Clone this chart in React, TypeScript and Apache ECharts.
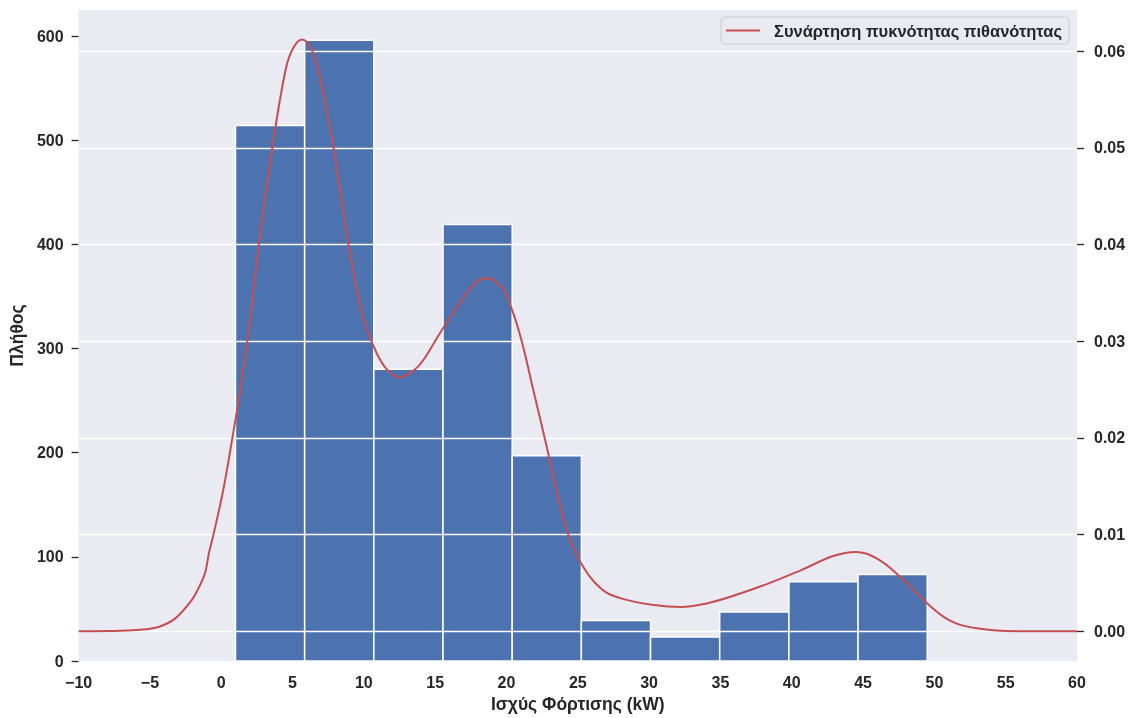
import React, { useEffect, useRef } from "react";
import * as echarts from "echarts";

// Histogram of charging power (kW): bin edges and counts per bin
const binEdges = [1.0, 5.85, 10.7, 15.55, 20.4, 25.25, 30.1, 34.95, 39.8, 44.65, 49.5];
const binCounts = [514, 596, 280, 419, 197, 39, 23, 47, 76, 83];

// Kernel density estimate, sampled along the power axis
const kdeX = [
  -10, -7, -5.5, -4.4, -3.24, -2.08, -1.61, -1.14, -0.86, -0.56, 0.14, 0.77, 1.1, 1.82, 2.63,
  3.57, 4.5, 5.0, 5.66, 6.36, 7.06, 7.88, 8.93, 9.86, 10.56, 11.49, 12.54, 13.59, 14.2, 15.45,
  16.85, 17.78, 18.6, 19.65, 20.35, 21.05, 21.87, 22.8, 23.38, 24.31, 25.24, 26.64, 28.04,
  30.37, 32.24, 34.1, 35.97, 38.3, 40.63, 42.96, 44.48, 45.99, 47.62, 49.49, 51.1, 52.98,
  55.8, 60,
];
const kdeY = [
  0.0, 0.00005, 0.00018, 0.00044, 0.0013, 0.0032, 0.0044, 0.006, 0.0081, 0.0099, 0.0146,
  0.0199, 0.0228, 0.0299, 0.0399, 0.0499, 0.058, 0.0602, 0.0612, 0.0601, 0.0563, 0.0499,
  0.0399, 0.0329, 0.0299, 0.0273, 0.0263, 0.0271, 0.0281, 0.0311, 0.0342, 0.036, 0.0365,
  0.0356, 0.0334, 0.0301, 0.025, 0.0192, 0.0153, 0.0101, 0.007, 0.0044, 0.0034, 0.0027,
  0.0025, 0.0029, 0.0037, 0.0049, 0.0063, 0.0078, 0.0082, 0.0075, 0.0056, 0.0029, 0.0011,
  0.0003, 0.0, 0.0,
];

const xTicks = [-10, -5, 0, 5, 10, 15, 20, 25, 30, 35, 40, 45, 50, 55, 60];
const countTicks = [0, 100, 200, 300, 400, 500, 600];
const densityTicks = [0, 0.01, 0.02, 0.03, 0.04, 0.05, 0.06];

const SERIES_NAME = "Συνάρτηση πυκνότητας πιθανότητας";
const FONT = "'Liberation Sans', Arial, Helvetica, sans-serif";
const TEXT = "#262626";

export default function App() {
  const ref = useRef<HTMLDivElement>(null);

  useEffect(() => {
    if (!ref.current) return;
    const chart = echarts.init(ref.current, null, { renderer: "svg" });

    const bins = binCounts.map((c, i) => [binEdges[i], binEdges[i + 1], c]);
    const kde = kdeX.map((x, i) => [x, kdeY[i]]);

    const labelStyle = {
      fontFamily: FONT,
      fontSize: 16,
      fontWeight: "bold" as const,
      color: TEXT,
    };
    const nameStyle = { ...labelStyle, fontSize: 17.5 };

    chart.setOption({
      animation: false,
      textStyle: { fontFamily: FONT },
      grid: {
        left: 76,
        right: 54,
        top: 10,
        bottom: 57,
        show: true,
        backgroundColor: "#EAEAF2",
        borderWidth: 0,
      },
      legend: {
        data: [SERIES_NAME],
        right: 62,
        top: 17,
        padding: [5, 7, 5, 5],
        itemWidth: 34,
        itemHeight: 2,
        icon: "rect",
        backgroundColor: "#EAEAF2",
        borderColor: "#cccccc",
        borderWidth: 1,
        borderRadius: 4,
        textStyle: { ...labelStyle, fontSize: 16.5, padding: [0, 0, 0, 9] },
      },
      xAxis: {
        type: "value",
        min: -10,
        max: 60,
        interval: 5,
        name: "Ισχύς Φόρτισης (kW)",
        nameLocation: "middle",
        nameGap: 33,
        nameTextStyle: nameStyle,
        axisLine: { show: false },
        axisTick: { show: false },
        splitLine: { show: false },
        axisLabel: {
          ...labelStyle,
          margin: 13,
          customValues: xTicks,
          formatter: (v: number) => String(v).replace("-", "\u2212"),
        },
      },
      yAxis: [
        {
          type: "value",
          min: 0,
          max: 625,
          interval: 100,
          name: "Πλήθος",
          nameLocation: "middle",
          nameGap: 52,
          nameTextStyle: nameStyle,
          axisLine: { show: false, onZero: false },
          axisTick: {
            show: true,
            length: 7,
            customValues: countTicks,
            lineStyle: { color: TEXT, width: 1.3 },
          },
          splitLine: { show: false },
          axisLabel: { ...labelStyle, margin: 15, customValues: countTicks },
        },
        {
          type: "value",
          position: "right",
          min: -0.00308,
          max: 0.06425,
          splitNumber: 7,
          z: 3,
          axisLine: { show: false, onZero: false },
          axisTick: {
            show: true,
            length: 7,
            customValues: densityTicks,
            lineStyle: { color: TEXT, width: 1.3 },
          },
          splitLine: { show: true, lineStyle: { color: "#ffffff", width: 1.3 } },
          axisLabel: {
            ...labelStyle,
            margin: 17,
            customValues: densityTicks,
            formatter: (v: number) => v.toFixed(2),
          },
        },
      ],
      series: [
        {
          type: "custom",
          name: "Πλήθος",
          xAxisIndex: 0,
          yAxisIndex: 0,
          z: 2,
          data: bins,
          encode: { x: [0, 1], y: 2 },
          renderItem: (_params: any, api: any) => {
            const topLeft = api.coord([api.value(0), api.value(2)]);
            const bottomRight = api.coord([api.value(1), 0]);
            return {
              type: "rect",
              shape: {
                x: topLeft[0],
                y: topLeft[1],
                width: bottomRight[0] - topLeft[0],
                height: bottomRight[1] - topLeft[1],
              },
              style: { fill: "#4C72B0", stroke: "#ffffff", lineWidth: 1.5 },
            };
          },
        },
        {
          type: "line",
          name: SERIES_NAME,
          xAxisIndex: 0,
          yAxisIndex: 1,
          z: 5,
          data: kde,
          showSymbol: false,
          smooth: 0.4,
          color: "#C44E52",
          lineStyle: { color: "#C44E52", width: 2 },
        },
      ],
    });

    return () => chart.dispose();
  }, []);

  return (
    <div
      ref={ref}
      style={{ position: "fixed", left: 0, top: 0, width: 1131, height: 718 }}
    />
  );
}
